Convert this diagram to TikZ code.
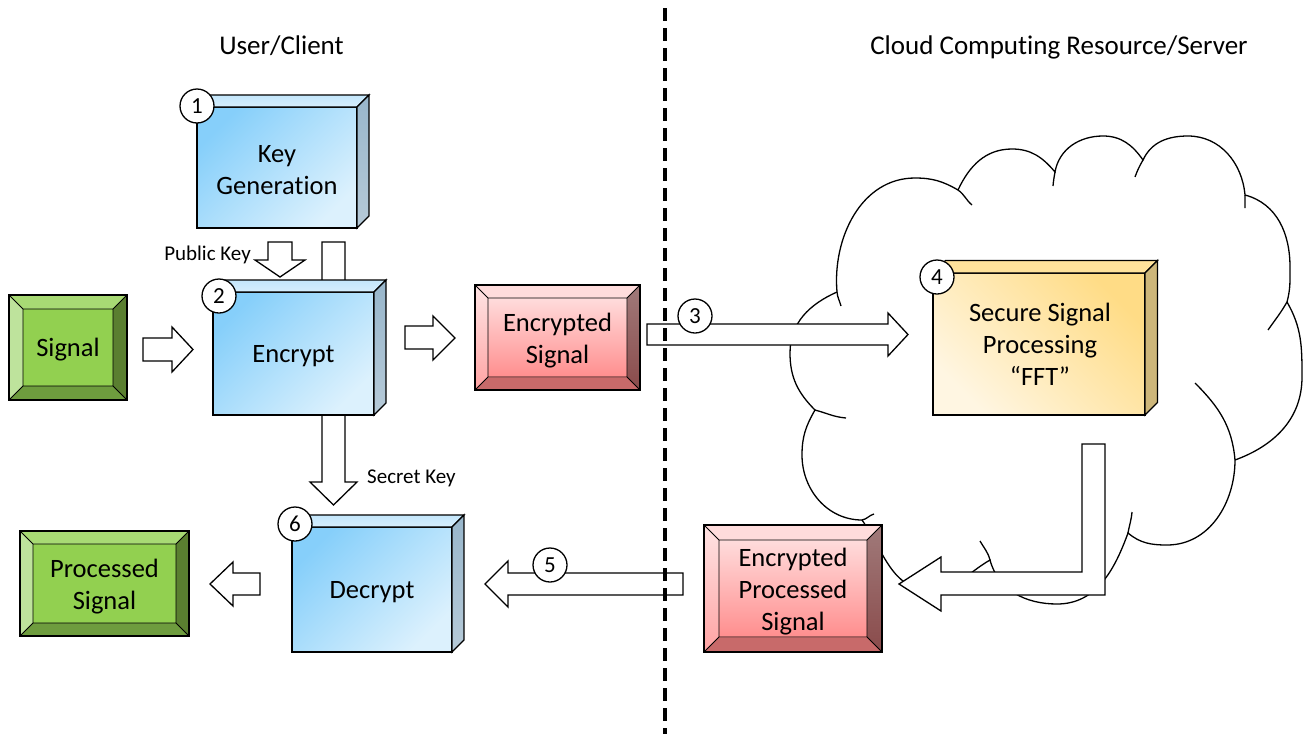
\documentclass[tikz,border=0pt]{standalone}
\usepackage{fontspec}
\setmainfont{Carlito}[Ligatures={NoCommon}]
\usetikzlibrary{calc}
\definecolor{bluetl}{HTML}{86CFFA}
\definecolor{bluebr}{HTML}{DCF1FD}
\definecolor{bluetop}{HTML}{C3E6FB}
\definecolor{bluetopb}{HTML}{D6EEFD}
\definecolor{blueside}{HTML}{98B6CB}
\definecolor{bluesideb}{HTML}{B6CAD8}
\definecolor{gin}{HTML}{92D050}
\definecolor{gtop}{HTML}{A8DA74}
\definecolor{gleft}{HTML}{BEE39C}
\definecolor{gright}{HTML}{5A7F30}
\definecolor{gbot}{HTML}{6E9C3E}
\definecolor{rint}{HTML}{FFDCDC}
\definecolor{rinb}{HTML}{FF8E8E}
\definecolor{rtop}{HTML}{FFDCDC}
\definecolor{rleftt}{HTML}{FFE4E4}
\definecolor{rleftb}{HTML}{FFA3A3}
\definecolor{rrightt}{HTML}{A07A7A}
\definecolor{rrightb}{HTML}{8A4B4B}
\definecolor{rbot}{HTML}{C86A6A}
\definecolor{ytr}{HTML}{FFDC86}
\definecolor{ybl}{HTML}{FFF6E2}
\definecolor{ytop}{HTML}{FFE29B}
\definecolor{yside}{HTML}{CDB67A}
\tikzset{
  ln/.style={line width=1.3pt, draw=black, line join=miter},
  boxtext/.style={font=\fontsize{26.5}{32}\selectfont, align=center, text=black, inner sep=0pt},
  frontbox/.style={ln, inner sep=0pt, outer sep=0pt},
  bluefront/.style={frontbox, top color=bluetl, bottom color=bluebr, shading angle=45},
  yellowfront/.style={frontbox, top color=ytr, bottom color=ybl, shading angle=-45},
  bevel/.style n args={6}{ln, inner sep=0pt, outer sep=0pt, path picture={
     \path (path picture bounding box.north west) coordinate (bnw)
           (path picture bounding box.north east) coordinate (bne)
           (path picture bounding box.south east) coordinate (bse)
           (path picture bounding box.south west) coordinate (bsw);
     \path ($(bnw)+(#1,-#1)$) coordinate (inw)
           ($(bne)+(-#1,-#1)$) coordinate (ine)
           ($(bse)+(-#1,#1)$) coordinate (ise)
           ($(bsw)+(#1,#1)$) coordinate (isw);
     \path[#2] (bnw)--(bne)--(ine)--(inw)--cycle;
     \path[#3] (bnw)--(inw)--(isw)--(bsw)--cycle;
     \path[#4] (bne)--(bse)--(ise)--(ine)--cycle;
     \path[#5] (bsw)--(isw)--(ise)--(bse)--cycle;
     \path[#6] (inw) rectangle (ise);
     \draw[line width=0.9pt] (inw) rectangle (ise) (bnw)--(inw) (bne)--(ine) (bse)--(ise) (bsw)--(isw);
     \draw[line width=2.6pt] (bnw) rectangle (bse);
  }},
  greenbevel/.style={bevel={#1}{fill=gtop}{fill=gleft}{fill=gright}{fill=gbot}{fill=gin}},
  redbevel/.style={bevel={#1}{fill=rtop}{top color=rleftt, bottom color=rleftb}{top color=rrightt, bottom color=rrightb}{fill=rbot}{top color=rint, bottom color=rinb}},
  blockarrow/.style={ln, fill=white},
  numcirc/.style={circle, ln, fill=white, minimum size=34pt, inner sep=0pt, font=\fontsize{23}{26}\selectfont},
  titletext/.style={font=\fontsize{27}{32}\selectfont, anchor=base},
  keylabel/.style={font=\fontsize{21}{24}\selectfont, inner sep=0pt},
  cloudline/.style={line width=1.3pt, draw=black},
  divider/.style={line width=3.5pt, draw=black, dash pattern=on 13pt off 7pt}
}
\newcommand{\cubefaces}[4]{%
  \draw[ln,#3] (#1.north west) -- ++(#2,#2) -- ($(#1.north east)+(#2,#2)$) -- (#1.north east) -- cycle;
  \draw[ln,#4] (#1.north east) -- ++(#2,#2) -- ($(#1.south east)+(#2,#2)$) -- (#1.south east) -- cycle;
}
\begin{document}
\begin{tikzpicture}[x=1pt,y=1pt]
\useasboundingbox (0,0) rectangle (1307,-734);
\fill[white] (0,0) rectangle (1307,-734);

% titles
\node[titletext] (tleft) at (281.5,-54) {User/Client};
\node[titletext] (tright) at (1059,-54) {Cloud Computing Resource/Server};

% cloud
\draw[cloudline, fill=white]
 (837,-292) to[out=95,in=180] (915,-178)
 to[out=0,in=150] (958,-190)
 to[out=65,in=180] (1012,-149)
 to[out=0,in=130] (1055,-172)
 to[out=80,in=180] (1103,-136)
 to[out=0,in=125] (1143,-160)
 to[out=65,in=180] (1188,-136)
 to[out=0,in=95] (1245,-195)
 to[out=-15,in=90] (1290,-267)
 to[out=-90,in=75] (1287,-302)
 to[out=-60,in=90] (1302,-377)
 to[out=-90,in=20] (1235,-460)
 to[out=-90,in=0] (1167,-545)
 to[out=180,in=-40] (1128,-533)
 to[out=-110,in=0] (1057,-604)
 to[out=180,in=-75] (990,-560)
 to[out=-150,in=0] (930,-590)
 to[out=180,in=-55] (862,-520)
 to[out=180,in=-90] (802,-455)
 to[out=90,in=-120] (815,-410)
 to[out=135,in=-90] (790,-353)
 to[out=90,in=204] (837,-292)
 -- cycle;
\draw[cloudline]
 (837,-292) to[out=-85,in=105] (841,-306)
 (958,-190) to[out=-35,in=140] (972,-205)
 (1055,-172) to[out=-100,in=85] (1053,-186)
 (1143,-160) to[out=-120,in=70] (1135,-177)
 (1245,-195) to[out=-90,in=90] (1245,-208)
 (1287,-302) to[out=-120,in=55] (1268,-330)
 (1235,-460) to[out=95,in=-45] (1195,-383)
 (1128,-533) to[out=80,in=-95] (1132,-512)
 (990,-560) to[out=105,in=-60] (980,-541)
 (862,-520) to[out=10,in=-165] (874,-514)
 (815,-410) to[out=-15,in=175] (846,-418);

% server side
\node[yellowfront, minimum width=212pt, minimum height=142pt] (fft) at (1039,-344) {};
\cubefaces{fft}{12.5}{fill=ytop}{fill=yside}
\node[boxtext] (fftt) at ($(fft.center)+(1,-0.5)$) {Secure Signal\\Processing\\``FFT''};

\draw[blockarrow] (1082,-444) -- (1105,-444) -- (1105,-595) -- (941,-595) -- (941,-611) -- (899,-584) -- (941,-557) -- (941,-572) -- (1082,-572) -- cycle;

\node[redbevel=15, minimum width=178pt, minimum height=127pt] (eps) at (793,-588.5) {};
\node[boxtext] (epst) at ($(eps.center)+(0,-3.5)$) {Encrypted\\Processed\\Signal};

\draw[blockarrow] (647,-324) -- (888,-324) -- (888,-313) -- (908,-334.5) -- (888,-356) -- (888,-345) -- (647,-345) -- cycle;
\draw[blockarrow] (683,-573) -- (508,-573) -- (508,-561) -- (485,-584) -- (508,-607) -- (508,-595) -- (683,-595) -- cycle;

% client side
\node[bluefront, minimum width=160pt, minimum height=121pt] (kg) at (277,-167.5) {};
\cubefaces{kg}{12}{top color=bluetop, bottom color=bluetopb}{top color=blueside, bottom color=bluesideb}
\node[boxtext] (kgt) at ($(kg.center)+(0,-2.5)$) {Key\\Generation};

\draw[blockarrow] (268,-242) -- (292,-242) -- (292,-260) -- (305,-260) -- (280,-277) -- (255,-260) -- (268,-260) -- cycle;
\node[keylabel, anchor=east] (pk) at (251,-255) {Public Key};

\draw[blockarrow] (322,-242) -- (345,-242) -- (345,-482) -- (357,-482) -- (333.5,-505) -- (310,-482) -- (322,-482) -- cycle;
\node[keylabel, anchor=west] (sk) at (367,-478) {Secret Key};

\node[bluefront, minimum width=161pt, minimum height=123pt] (enc) at (293.5,-353.5) {};
\cubefaces{enc}{12}{top color=bluetop, bottom color=bluetopb}{top color=blueside, bottom color=bluesideb}
\node[boxtext] (enct) at ($(enc.center)+(0,-3)$) {Encrypt};

\node[bluefront, minimum width=160pt, minimum height=125pt] (dec) at (372,-589.5) {};
\cubefaces{dec}{12}{top color=bluetop, bottom color=bluetopb}{top color=blueside, bottom color=bluesideb}
\node[boxtext] (dect) at ($(dec.center)+(0,-3)$) {Decrypt};

\node[greenbevel=14, minimum width=118pt, minimum height=105pt] (sig) at (68,-347.5) {};
\node[boxtext] (sigt) at ($(sig.center)+(0,-2.5)$) {Signal};
\node[greenbevel=13, minimum width=169pt, minimum height=105pt] (psig) at (104.5,-583.5) {};
\node[boxtext] (psigt) at ($(psig.center)+(0,-3.5)$) {Processed\\Signal};
\node[redbevel=13, minimum width=165pt, minimum height=105pt] (esig) at (557.5,-337.5) {};
\node[boxtext] (esigt) at ($(esig.center)+(0,-3)$) {Encrypted\\Signal};

\draw[blockarrow] (143,-338) -- (172,-338) -- (172,-327) -- (193,-349.5) -- (172,-372) -- (172,-361) -- (143,-361) -- cycle;
\draw[blockarrow] (405,-326) -- (433,-326) -- (433,-316) -- (455,-338) -- (433,-360) -- (433,-349) -- (405,-349) -- cycle;
\draw[blockarrow] (260,-573) -- (233,-573) -- (233,-562) -- (210,-584) -- (233,-606) -- (233,-595) -- (260,-595) -- cycle;

% divider
\coordinate (dtop) at (665,-8);
\coordinate (dbot) at (665,-734);
\draw[divider] (dtop) -- (dbot);

% step numbers
\node[numcirc] (n1) at (197,-106) {1};
\node[numcirc] (n2) at (219,-296) {2};
\node[numcirc] (n3) at (695,-316) {3};
\node[numcirc] (n4) at (937,-277) {4};
\node[numcirc] (n5) at (550,-565) {5};
\node[numcirc] (n6) at (295,-524) {6};
\end{tikzpicture}
\end{document}
